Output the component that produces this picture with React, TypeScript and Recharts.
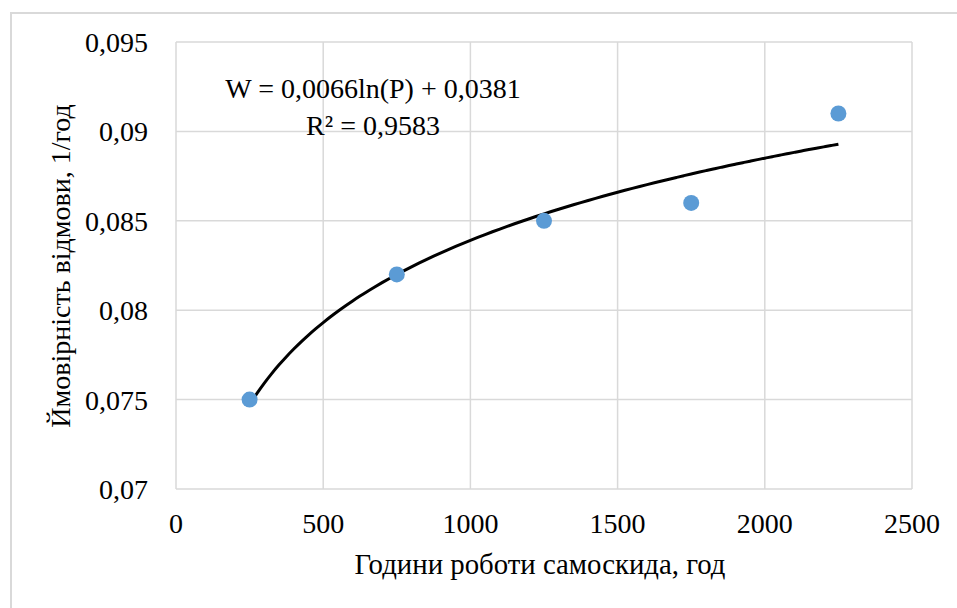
import React from 'react';
import { ComposedChart, Scatter, Line, XAxis, YAxis, CartesianGrid } from 'recharts';

// operating hours of the dump truck and observed failure probability
const hours = [250, 750, 1250, 1750, 2250];
const failureProb = [0.075, 0.082, 0.085, 0.086, 0.091];

const xTicks = [0, 500, 1000, 1500, 2000, 2500];
const yTicks = [0.07, 0.075, 0.08, 0.085, 0.09, 0.095];

const points = hours.map((h, i) => ({ x: h, y: failureProb[i] }));

// logarithmic least-squares fit  W = a*ln(P) + b
const lnX = hours.map((h) => Math.log(h));
const mx = lnX.reduce((s, v) => s + v, 0) / lnX.length;
const my = failureProb.reduce((s, v) => s + v, 0) / failureProb.length;
let sxy = 0;
let sxx = 0;
let syy = 0;
lnX.forEach((v, i) => {
  sxy += (v - mx) * (failureProb[i] - my);
  sxx += (v - mx) * (v - mx);
  syy += (failureProb[i] - my) * (failureProb[i] - my);
});
const slope = sxy / sxx;
const intercept = my - slope * mx;
const r2 = (sxy * sxy) / (sxx * syy);

const trend: { x: number; y: number }[] = [];
for (let p = hours[0]; p <= hours[hours.length - 1]; p += 25) {
  trend.push({ x: p, y: slope * Math.log(p) + intercept });
}

const comma = (v: number, d?: number) => (d === undefined ? String(v) : v.toFixed(d)).replace('.', ',');

const FONT = '"Liberation Serif", "Times New Roman", serif';
const GRID = '#d9d9d9';
const FS = 28;

const XTick = ({ x, y, payload }: any) => (
  <text x={x} y={y} dy={20} textAnchor='middle' fill='#000' fontSize={FS} fontFamily={FONT}>
    {payload.value}
  </text>
);

const YTick = ({ x, y, payload }: any) => (
  <text x={x} y={y} dy={10} textAnchor='end' fill='#000' fontSize={FS} fontFamily={FONT}>
    {comma(payload.value)}
  </text>
);

const App: React.FC = () => {
  return (
    <div
      style={{
        position: 'absolute',
        left: 0,
        top: 0,
        width: 957,
        height: 608,
        overflow: 'hidden',
        background: '#fff',
        fontFamily: FONT,
      }}
    >
      <div
        style={{
          position: 'absolute',
          left: 10,
          top: 12,
          width: 1000,
          height: 1000,
          borderLeft: `2px solid ${GRID}`,
          borderTop: `2px solid ${GRID}`,
        }}
      />
      <div style={{ position: 'absolute', left: 0, top: 0 }}>
        <ComposedChart width={957} height={608} margin={{ top: 42, right: 45, left: 0, bottom: 0 }}>
          <CartesianGrid stroke={GRID} strokeWidth={1.5} />
          <XAxis
            dataKey='x'
            type='number'
            domain={[0, 2500]}
            ticks={xTicks}
            height={119}
            axisLine={false}
            tickLine={false}
            tickSize={0}
            tickMargin={24}
            tick={<XTick />}
            label={{
              content: () => (
                <text x={540} y={574} textAnchor='middle' fill='#000' fontSize={28.8} fontFamily={FONT}>
                  Години роботи самоскида, год
                </text>
              ),
            }}
          />
          <YAxis
            dataKey='y'
            type='number'
            domain={[0.07, 0.095]}
            ticks={yTicks}
            width={176}
            axisLine={false}
            tickLine={false}
            tickSize={0}
            tickMargin={28}
            tick={<YTick />}
            label={{
              content: () => (
                <text
                  transform='translate(70,266) rotate(-90)'
                  textAnchor='middle'
                  fill='#000'
                  fontSize={FS}
                  fontFamily={FONT}
                >
                  Ймовірність відмови, 1/год
                </text>
              ),
            }}
          />
          <Scatter
            data={points}
            isAnimationActive={false}
            shape={(p: any) => <circle cx={p.cx} cy={p.cy} r={8} fill='#5b9bd5' />}
          />
          <Line
            data={trend}
            dataKey='y'
            type='monotone'
            stroke='#000'
            strokeWidth={3}
            dot={false}
            activeDot={false}
            isAnimationActive={false}
          />
        </ComposedChart>
      </div>
      <div
        style={{
          position: 'absolute',
          left: 173,
          top: 70,
          width: 400,
          textAlign: 'center',
          fontSize: FS,
          lineHeight: '37px',
          color: '#000',
        }}
      >
        <div>{`W = ${comma(slope, 4)}ln(P) + ${comma(intercept, 4)}`}</div>
        <div>{`R² = ${comma(r2, 4)}`}</div>
      </div>
    </div>
  );
};

export default App;
